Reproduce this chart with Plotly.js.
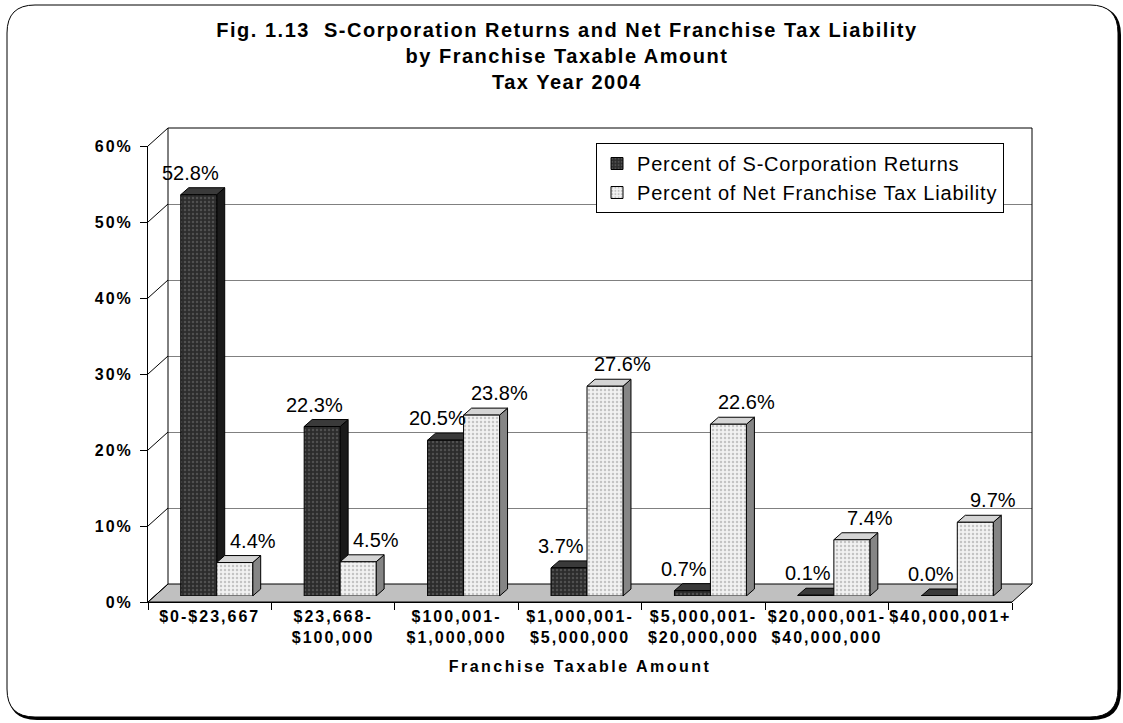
<!DOCTYPE html>
<html><head><meta charset="utf-8">
<script src="https://cdn.plot.ly/plotly-3.0.1.min.js"></script>
<style>
html,body{margin:0;padding:0;background:#fff;}
#chart{width:1123px;height:723px;}
.gtitle{letter-spacing:1.5px;}
.x2tick text,.y2tick text{letter-spacing:2px;}
.x2title{letter-spacing:2.5px;}
.legendtext{letter-spacing:0.8px;}
</style></head><body><div id="chart"></div>
<script>
// ---- data ----
const categories = ['$0-$23,667', '$23,668-<br>$100,000', '$100,001-<br>$1,000,000', '$1,000,001-<br>$5,000,000',
  '$5,000,001-<br>$20,000,000', '$20,000,001-<br>$40,000,000', '$40,000,001+'];
const returnsPct = [52.8, 22.3, 20.5, 3.7, 0.7, 0.1, 0.0];
const liabilityPct = [4.4, 4.5, 23.8, 27.6, 22.6, 7.4, 9.7];
const seriesNames = ['Percent of S-Corporation Returns', 'Percent of Net Franchise Tax Liability'];
const yTicks = [0, 10, 20, 30, 40, 50, 60];
const yTickLabels = ['0%', '10%', '20%', '30%', '40%', '50%', '60%'];
const titleLines = ['Fig. 1.13\u00a0\u00a0S-Corporation Returns and Net Franchise Tax Liability', 'by Franchise Taxable Amount', 'Tax Year 2004'];
const xTitle = 'Franchise Taxable Amount';

// ---- geometry / style ----
const FONT = 'Liberation Sans, Arial, sans-serif';
const W = 1123, H = 723, M = {l: 148, r: 91, t: 128, b: 121};
const PW = W - M.l - M.r, PH = H - M.t - M.b;
const FW = 864, FH = 456;      // front plane size in px
const DX = 20, DY = 18;        // wall depth
const BX = 7, BY = 6;          // bar plane offset
const BDX = 8, BDY = 7;        // bar depth
const BARGAP = 0.417;
const YMAX = yTicks[yTicks.length - 1];
const n = categories.length;
const idx = categories.map((c, i) => i);
const fx = v => v / PW, fy = v => v / PH;
const pxX = x => (x - M.l) / PW, pxY = y => (H - M.b - y) / PH;

const unitX = FW / n, unitY = FH / YMAX;
const dxu = BDX / unitX, dyu = BDY / unitY;
const bw = (1 - BARGAP) / 2;

const frontColors = [{bg: '#2c2c2c', fg: '#505050'}, {bg: '#f2f2f2', fg: '#c4c4c4'}];
const sideColors = ['#1a1a1a', '#858585'];
const topColors = ['#3a3a3a', '#d4d4d4'];
const series = [returnsPct, liabilityPct];

const shapes = [];
function roundRect(x0, y0, x1, y1, r) {
  const X = pxX, Y = pxY;
  return `M${X(x0 + r)},${Y(y0)} L${X(x1 - r)},${Y(y0)} Q${X(x1)},${Y(y0)} ${X(x1)},${Y(y0 + r)} ` +
    `L${X(x1)},${Y(y1 - r)} Q${X(x1)},${Y(y1)} ${X(x1 - r)},${Y(y1)} L${X(x0 + r)},${Y(y1)} ` +
    `Q${X(x0)},${Y(y1)} ${X(x0)},${Y(y1 - r)} L${X(x0)},${Y(y0 + r)} Q${X(x0)},${Y(y0)} ${X(x0 + r)},${Y(y0)} Z`;
}
// outer rounded border (shadow + frame)
shapes.push({type: 'path', xref: 'paper', yref: 'paper', layer: 'below', path: roundRect(9, 7, 1120, 719, 28),
  line: {color: '#000', width: 2}, fillcolor: '#000'});
shapes.push({type: 'path', xref: 'paper', yref: 'paper', layer: 'below', path: roundRect(7, 5, 1118, 717, 28),
  line: {color: '#000', width: 1}, fillcolor: '#fff'});
// floor
shapes.push({type: 'path', xref: 'paper', yref: 'paper', layer: 'below',
  path: `M0,0 L${fx(FW)},0 L1,${fy(DY)} L${fx(DX)},${fy(DY)} Z`,
  fillcolor: '#c0c0c0', line: {color: '#000', width: 1}});
// left wall diagonals at each tick
yTicks.forEach(t => {
  shapes.push({type: 'line', xref: 'paper', yref: 'paper', layer: 'above',
    x0: 0, y0: fy(t * unitY), x1: fx(DX), y1: fy(DY + t * unitY), line: {color: '#000', width: 1}});
});
// back wall outline
shapes.push({type: 'line', xref: 'paper', yref: 'paper', layer: 'above', x0: fx(DX), y0: fy(DY), x1: fx(DX), y1: 1, line: {color: '#000', width: 1}});
shapes.push({type: 'line', xref: 'paper', yref: 'paper', layer: 'above', x0: fx(DX), y0: 1, x1: 1, y1: 1, line: {color: '#000', width: 1}});
shapes.push({type: 'line', xref: 'paper', yref: 'paper', layer: 'above', x0: 1, y0: fy(DY), x1: 1, y1: 1, line: {color: '#000', width: 1}});

// 3D side and top faces of bars, and value labels
const annotations = [];
series.forEach((vals, s) => {
  vals.forEach((v, i) => {
    const xc = idx[i] + (s === 0 ? -bw / 2 : bw / 2);
    const xl = xc - bw / 2, xr = xc + bw / 2;
    shapes.push({type: 'path', xref: 'x3', yref: 'y3', layer: 'between',
      path: `M${xr},0 L${xr + dxu},${dyu} L${xr + dxu},${v + dyu} L${xr},${v} Z`,
      fillcolor: sideColors[s], line: {color: '#000', width: 1}});
    shapes.push({type: 'path', xref: 'x3', yref: 'y3', layer: 'between',
      path: `M${xl},${v} L${xl + dxu},${v + dyu} L${xr + dxu},${v + dyu} L${xr},${v} Z`,
      fillcolor: topColors[s], line: {color: '#000', width: 1}});
    annotations.push({xref: 'x3', yref: 'y3', x: xc, y: v, text: v.toFixed(1) + '%', showarrow: false,
      yshift: 22, xshift: s === 0 ? -8 : 18, font: {family: FONT, size: 20, color: '#000'}});
  });
});

const traces = series.map((vals, s) => ({
  type: 'bar', x: idx, y: vals, name: seriesNames[s], xaxis: 'x3', yaxis: 'y3',
  marker: {color: frontColors[s].bg, line: {color: '#000', width: 1},
    pattern: {shape: '.', size: 4, solidity: 0.3, fgcolor: frontColors[s].fg, bgcolor: frontColors[s].bg, fillmode: 'replace'}},
  hoverinfo: 'skip'
}));
// invisible carriers so the back-wall and front-axis subplots are drawn
traces.push({type: 'scatter', mode: 'markers', x: [0], y: [0], xaxis: 'x', yaxis: 'y',
  marker: {opacity: 0}, showlegend: false, hoverinfo: 'skip'});
traces.push({type: 'scatter', mode: 'markers', x: categories, y: categories.map(() => 0), xaxis: 'x2', yaxis: 'y2',
  marker: {opacity: 0}, showlegend: false, hoverinfo: 'skip'});

const tickFont = {family: FONT, size: 16, color: '#000', weight: 'bold'};
const layout = {
  width: W, height: H, margin: M,
  paper_bgcolor: '#fff', plot_bgcolor: 'rgba(0,0,0,0)',
  barmode: 'group', bargap: BARGAP, bargroupgap: 0,
  hovermode: false,
  title: {text: titleLines.join('<br>'), xref: 'container', yref: 'container', x: 567 / W, xanchor: 'center',
    y: 1 - 37 / H, yanchor: 'top', font: {family: FONT, size: 20, color: '#000', weight: 'bold'}},
  // back wall (gridlines)
  xaxis: {domain: [fx(DX), 1], anchor: 'y', range: [-0.5, n - 0.5], showgrid: false, showticklabels: false,
    ticks: '', showline: false, zeroline: false, fixedrange: true},
  yaxis: {domain: [fy(DY), 1], anchor: 'x', range: [0, YMAX], tickvals: yTicks, showgrid: true, gridcolor: '#808080', gridwidth: 1,
    showticklabels: false, ticks: '', showline: false, zeroline: false, fixedrange: true},
  // front axes (labels and ticks)
  xaxis2: {domain: [0, fx(FW)], anchor: 'y2', type: 'category', range: [-0.5, n - 0.5], tickson: 'boundaries',
    ticks: 'outside', ticklen: 7, tickcolor: '#000', showline: true, linecolor: '#000', linewidth: 1, showgrid: false,
    tickfont: tickFont, automargin: false, fixedrange: true,
    title: {text: xTitle, font: {family: FONT, size: 16, color: '#000', weight: 'bold'}, standoff: 15}},
  yaxis2: {domain: [0, fy(FH)], anchor: 'x2', range: [0, YMAX], tickmode: 'array', tickvals: yTicks, ticktext: yTickLabels,
    ticks: 'outside', ticklen: 7, tickcolor: '#000', showline: true, linecolor: '#000', linewidth: 1, showgrid: false,
    zeroline: false, tickfont: tickFont, ticklabelstandoff: 4, automargin: false, fixedrange: true},
  // bar plane
  xaxis3: {domain: [fx(BX), fx(BX + FW)], anchor: 'y3', range: [-0.5, n - 0.5], visible: false, fixedrange: true},
  yaxis3: {domain: [fy(BY), fy(BY + FH)], anchor: 'x3', range: [0, YMAX], visible: false, fixedrange: true},
  legend: {x: pxX(596), y: pxY(143), xanchor: 'left', yanchor: 'top', bgcolor: '#fff', bordercolor: '#000', borderwidth: 1,
    font: {family: FONT, size: 20, color: '#000'}, traceorder: 'normal'},
  shapes: shapes, annotations: annotations
};

Plotly.newPlot('chart', traces, layout, {staticPlot: true, displayModeBar: false});
</script></body></html>
